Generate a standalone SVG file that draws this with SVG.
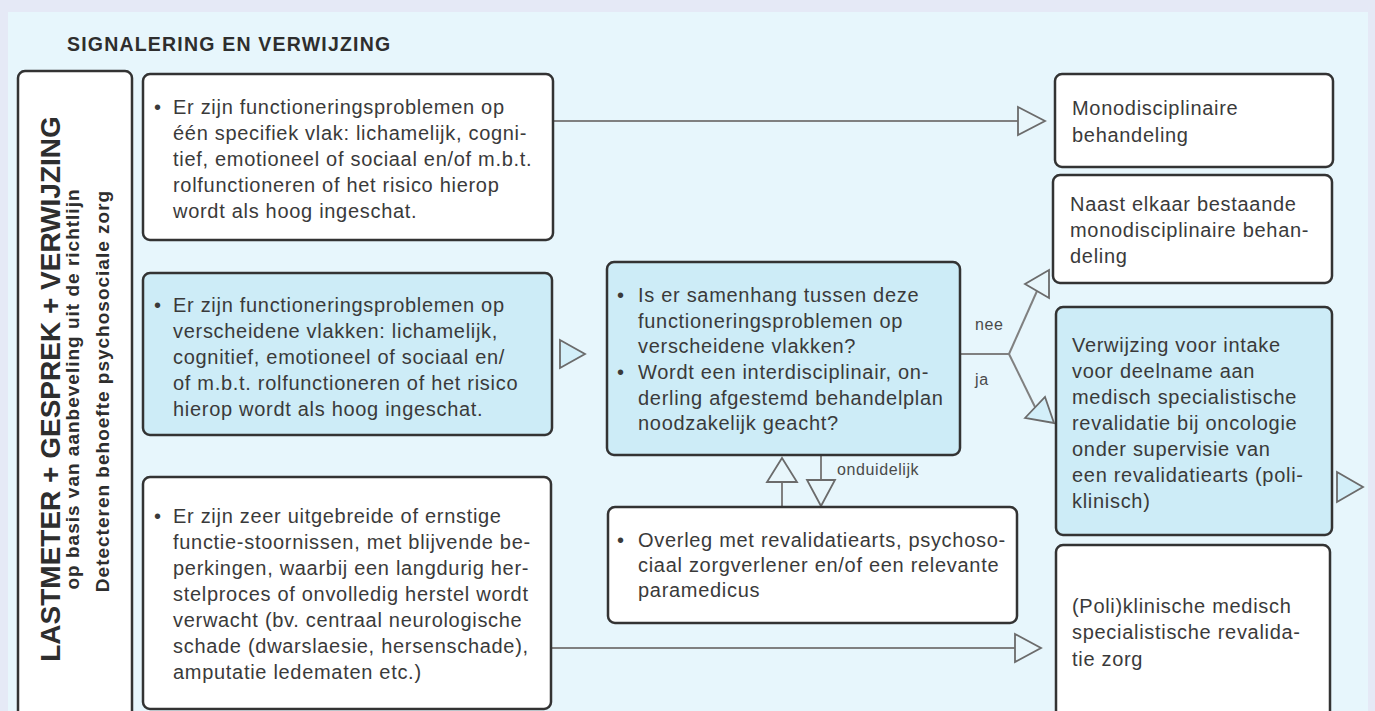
<svg xmlns="http://www.w3.org/2000/svg" width="1375" height="711" viewBox="0 0 1375 711">
<style>
text{font-family:"Liberation Sans",Arial,sans-serif;fill:#3a3a3a}
.t{font-size:20px;letter-spacing:0.7px}
.lbl{font-size:16px;letter-spacing:0.6px;fill:#4a4a4a}
.title{font-size:19.5px;font-weight:bold;letter-spacing:1.2px;fill:#2e2e2e}
.big{font-size:28px;font-weight:bold;fill:#2e2e2e}
.sub{font-size:19px;font-weight:bold;letter-spacing:1px;fill:#2e2e2e}
.box{fill:#ffffff;stroke:#333333;stroke-width:2.5}
.blue{fill:#cdecf7;stroke:#333333;stroke-width:2.5}
.ln{stroke:#808080;stroke-width:2;fill:none}
.ah{stroke:#6b6b6b;stroke-width:1.8;fill:#e8f6fb;stroke-linejoin:miter}
.ahb{stroke:#6b6b6b;stroke-width:1.8;fill:#d3eff9;stroke-linejoin:miter}
</style>
<rect x="0" y="0" width="1375" height="711" fill="#e5e9f6"/>
<rect x="8" y="12" width="1360" height="710" fill="#e7f6fc"/>
<text class="title" x="67" y="51">SIGNALERING EN VERWIJZING</text>

<g id="side">
<rect class="box" x="18" y="71" width="114" height="660" rx="7"/>
<text class="big" transform="translate(60,389) rotate(-90)" text-anchor="middle">LASTMETER + GESPREK + VERWIJZING</text>
<text class="sub" transform="translate(79,389) rotate(-90)" text-anchor="middle">op basis van aanbeveling uit de richtlijn</text>
<text class="sub" transform="translate(109,391) rotate(-90)" text-anchor="middle">Detecteren behoefte psychosociale zorg</text>
</g>

<g id="connectors">
<line class="ln" x1="553" y1="121" x2="1018" y2="121"/>
<polygon class="ah" points="1018,107 1045,121 1018,135"/>
<polygon class="ahb" points="560,340 585,354 560,368"/>
<line class="ln" x1="960" y1="354" x2="1009" y2="354"/>
<line class="ln" x1="1009" y1="354" x2="1037" y2="291"/>
<polygon class="ah" points="1025,284 1049,298 1049,270"/>
<line class="ln" x1="1009" y1="354" x2="1035" y2="407"/>
<polygon class="ahb" points="1025,418 1045,397 1054,423"/>
<line class="ln" x1="782" y1="507" x2="782" y2="482"/>
<polygon class="ah" points="767,482 797,482 782,458"/>
<line class="ln" x1="821" y1="455" x2="821" y2="480"/>
<polygon class="ah" points="807,480 835,480 821,506"/>
<line class="ln" x1="550" y1="648" x2="1015" y2="648"/>
<polygon class="ah" points="1015,634 1041,648 1015,662"/>
<polygon class="ahb" points="1337,472 1363,487 1337,502"/>
<text class="lbl" x="975" y="330">nee</text>
<text class="lbl" x="975" y="385">ja</text>
<text class="lbl" x="837" y="475">onduidelijk</text>
</g>

<g id="box1">
<rect class="box" x="143" y="74" width="410" height="166" rx="7"/>
<text class="t" x="154" y="114">•</text>
<text class="t"><tspan x="173" y="114">Er zijn functioneringsproblemen op</tspan><tspan x="173" y="140">één specifiek vlak: lichamelijk, cogni-</tspan><tspan x="173" y="166">tief, emotioneel of sociaal en/of m.b.t.</tspan><tspan x="173" y="192">rolfunctioneren of het risico hierop</tspan><tspan x="173" y="218">wordt als hoog ingeschat.</tspan></text>
</g>

<g id="box2">
<rect class="blue" x="143" y="273" width="409" height="162" rx="7"/>
<text class="t" x="154" y="312">•</text>
<text class="t"><tspan x="173" y="312">Er zijn functioneringsproblemen op</tspan><tspan x="173" y="338">verscheidene vlakken: lichamelijk,</tspan><tspan x="173" y="364">cognitief, emotioneel of sociaal en/</tspan><tspan x="173" y="390">of m.b.t. rolfunctioneren of het risico</tspan><tspan x="173" y="416">hierop wordt als hoog ingeschat.</tspan></text>
</g>

<g id="box3">
<rect class="box" x="143" y="477" width="408" height="232" rx="7"/>
<text class="t" x="154" y="523">•</text>
<text class="t"><tspan x="173" y="523">Er zijn zeer uitgebreide of ernstige</tspan><tspan x="173" y="549">functie-stoornissen, met blijvende be-</tspan><tspan x="173" y="575">perkingen, waarbij een langdurig her-</tspan><tspan x="173" y="601">stelproces of onvolledig herstel wordt</tspan><tspan x="173" y="627">verwacht (bv. centraal neurologische</tspan><tspan x="173" y="653">schade (dwarslaesie, hersenschade),</tspan><tspan x="173" y="679">amputatie ledematen etc.)</tspan></text>
</g>

<g id="question">
<rect class="blue" x="607" y="262" width="353" height="193" rx="7"/>
<text class="t" x="617" y="302">•</text>
<text class="t" x="617" y="379">•</text>
<text class="t"><tspan x="638" y="302">Is er samenhang tussen deze</tspan><tspan x="638" y="327.5">functioneringsproblemen op</tspan><tspan x="638" y="353">verscheidene vlakken?</tspan><tspan x="638" y="379">Wordt een interdisciplinair, on-</tspan><tspan x="638" y="405">derling afgestemd behandelplan</tspan><tspan x="638" y="430">noodzakelijk geacht?</tspan></text>
</g>

<g id="overleg">
<rect class="box" x="608" y="507" width="409" height="116" rx="7"/>
<text class="t" x="617" y="547">•</text>
<text class="t"><tspan x="638" y="547">Overleg met revalidatiearts, psychoso-</tspan><tspan x="638" y="572">ciaal zorgverlener en/of een relevante</tspan><tspan x="638" y="597">paramedicus</tspan></text>
</g>

<g id="r1">
<rect class="box" x="1055" y="74" width="278" height="93" rx="7"/>
<text class="t"><tspan x="1072" y="115">Monodisciplinaire</tspan><tspan x="1072" y="142">behandeling</tspan></text>
</g>

<g id="r2">
<rect class="box" x="1053" y="175" width="279" height="108" rx="7"/>
<text class="t"><tspan x="1070" y="211">Naast elkaar bestaande</tspan><tspan x="1070" y="237">monodisciplinaire behan-</tspan><tspan x="1070" y="263">deling</tspan></text>
</g>

<g id="r3">
<rect class="blue" x="1056" y="307" width="276" height="228" rx="7"/>
<text class="t"><tspan x="1072" y="352">Verwijzing voor intake</tspan><tspan x="1072" y="378">voor deelname aan</tspan><tspan x="1072" y="404">medisch specialistische</tspan><tspan x="1072" y="430">revalidatie bij oncologie</tspan><tspan x="1072" y="456">onder supervisie van</tspan><tspan x="1072" y="482">een revalidatiearts (poli-</tspan><tspan x="1072" y="508">klinisch)</tspan></text>
</g>

<g id="r4">
<rect class="box" x="1056" y="545" width="274" height="190" rx="7"/>
<text class="t"><tspan x="1072" y="613">(Poli)klinische medisch</tspan><tspan x="1072" y="639">specialistische revalida-</tspan><tspan x="1072" y="666">tie zorg</tspan></text>
</g>
</svg>
